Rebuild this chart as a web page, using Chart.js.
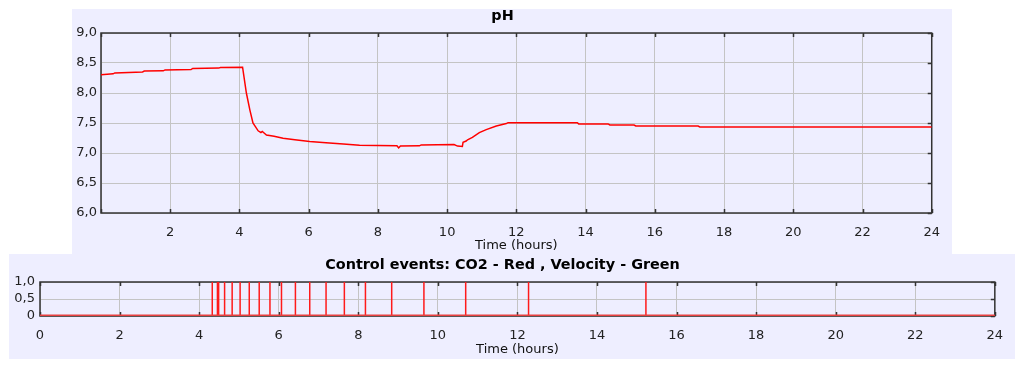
<!DOCTYPE html>
<html><head><meta charset="utf-8">
<script src="https://cdn.jsdelivr.net/npm/chart.js@4/dist/chart.umd.min.js"></script>
<style>
html,body{margin:0;padding:0;background:#fff;width:1024px;height:368px;overflow:hidden}
.panel{position:absolute;background:#eeeeff}
#p1{left:72px;top:9px;width:880px;height:245px}
#p2{left:9px;top:254px;width:1006px;height:105px}
canvas{display:block}
</style></head><body>
<div class="panel" id="p1"><canvas id="c1" width="880" height="245"></canvas></div>
<div class="panel" id="p2"><canvas id="c2" width="1006" height="105"></canvas></div>
<script>
// ---- data ----
const phTimes  = [0, 0.35, 0.4, 1.2, 1.25, 1.8, 1.85, 2.6, 2.65, 3.4, 3.45, 4.09, 4.2, 4.3, 4.39, 4.54, 4.62, 4.66, 4.72, 4.78, 5.0, 5.26, 5.6, 6.03, 6.5, 7.0, 7.47, 8.0, 8.55, 8.6, 8.65, 9.2, 9.25, 10.2, 10.3, 10.44, 10.46, 10.55, 10.59, 10.73, 10.93, 11.13, 11.42, 11.71, 11.76, 13.76, 13.8, 14.65, 14.7, 15.4, 15.45, 17.25, 17.3, 24];
const phValues = [8.305, 8.32, 8.335, 8.35, 8.365, 8.37, 8.385, 8.39, 8.41, 8.415, 8.425, 8.43, 8.0, 7.72, 7.50, 7.37, 7.34, 7.36, 7.33, 7.30, 7.28, 7.245, 7.22, 7.19, 7.17, 7.15, 7.13, 7.125, 7.12, 7.085, 7.115, 7.12, 7.135, 7.14, 7.115, 7.11, 7.18, 7.20, 7.22, 7.26, 7.34, 7.39, 7.45, 7.49, 7.505, 7.505, 7.485, 7.485, 7.467, 7.467, 7.45, 7.45, 7.435, 7.435];
const co2Events = [4.33, 4.46, 4.49, 4.64, 4.83, 5.03, 5.26, 5.51, 5.78, 6.07, 6.42, 6.78, 7.19, 7.65, 8.18, 8.84, 9.65, 10.70, 12.28, 15.23];
const velocityEvents = [];
const xTicks = [0, 2, 4, 6, 8, 10, 12, 14, 16, 18, 20, 22, 24];
const phTicks = [6, 6.5, 7, 7.5, 8, 8.5, 9];
const eventTicks = [0, 0.5, 1];
const phTitle = 'pH';
const eventsTitle = 'Control events: CO2 - Red , Velocity - Green';
const xTitle = 'Time (hours)';

// ---- helpers ----
const FONT = {family: "'DejaVu Sans', sans-serif", size: 13};
const BOLD = {family: "'DejaVu Sans', sans-serif", size: 14.4, weight: 'bold', lineHeight: 1};
const comma = v => v.toFixed(1).replace('.', ',');

const frame = {
  id: 'frame',
  beforeDatasetsDraw(chart) {
    const {ctx, chartArea: a, scales: {x, y}} = chart;
    ctx.save();
    ctx.strokeStyle = '#333';
    ctx.lineWidth = 1.5;
    ctx.strokeRect(a.left, a.top, a.right - a.left, a.bottom - a.top);
    ctx.beginPath();
    x.ticks.forEach(t => {
      const px = Math.round(x.getPixelForValue(t.value)) + 0.5;
      ctx.moveTo(px, a.top); ctx.lineTo(px, a.top + 4);
      ctx.moveTo(px, a.bottom); ctx.lineTo(px, a.bottom - 4);
    });
    y.ticks.forEach(t => {
      const py = Math.round(y.getPixelForValue(t.value)) + 0.5;
      ctx.moveTo(a.right, py); ctx.lineTo(a.right - 4, py);
    });
    ctx.stroke();
    ctx.restore();
  }
};

function xScale(height, tickPad, titlePad, hideZero) {
  return {
    type: 'linear', min: 0, max: 24,
    afterBuildTicks: s => { s.ticks = xTicks.map(v => ({value: v})); },
    afterFit: s => { s.height = height; },
    ticks: {font: FONT, color: '#222', padding: tickPad, maxRotation: 0, autoSkip: false,
            callback: v => (hideZero && v === 0) ? '' : String(v)},
    grid: {color: '#c4c4c4', lineWidth: 1, drawTicks: false},
    border: {display: false},
    title: {display: true, text: xTitle, font: FONT, color: '#111', padding: {top: 0, bottom: titlePad}}
  };
}

// ---- pH chart ----
new Chart(document.getElementById('c1'), {
  type: 'line',
  data: {datasets: [{
    data: phTimes.map((t, i) => ({x: t, y: phValues[i]})),
    borderColor: '#ff0000', borderWidth: 1.5, pointRadius: 0, tension: 0, fill: false
  }]},
  options: {
    responsive: false, animation: false, devicePixelRatio: 1,
    layout: {padding: {left: 0, right: 19, top: 0, bottom: 0}},
    plugins: {
      legend: {display: false}, tooltip: {enabled: false},
      title: {display: true, text: phTitle, font: BOLD, color: '#000', padding: {top: 0, bottom: 9.6}}
    },
    scales: {
      x: xScale(41, 12, 0.2, true),
      y: {
        min: 6, max: 9,
        afterBuildTicks: s => { s.ticks = phTicks.map(v => ({value: v})); },
        afterFit: s => { s.width = 29; },
        ticks: {font: FONT, color: '#222', padding: 4, autoSkip: false, callback: v => comma(v)},
        grid: {color: '#c4c4c4', lineWidth: 1, drawTicks: false},
        border: {display: false}
      }
    }
  },
  plugins: [frame]
});

// ---- events chart ----
const co2Line = [{x: 0, y: 0}];
co2Events.forEach(t => { co2Line.push({x: t, y: 0}, {x: t, y: 1}, {x: t, y: 0}); });
co2Line.push({x: 24, y: 0});
const velLine = [];
velocityEvents.forEach(t => { velLine.push({x: t, y: 0}, {x: t, y: 1}, {x: t, y: 0}); });

new Chart(document.getElementById('c2'), {
  type: 'line',
  data: {datasets: [
    {data: [{x: 0, y: 0}, {x: 24, y: 0}], borderColor: '#e84040', borderWidth: 3, pointRadius: 0, tension: 0},
    {data: co2Line, borderColor: '#ff1a1a', borderWidth: 1.5, pointRadius: 0, tension: 0},
    {data: velLine, borderColor: '#00c000', borderWidth: 1.5, pointRadius: 0, tension: 0}
  ]},
  options: {
    responsive: false, animation: false, devicePixelRatio: 1,
    layout: {padding: {left: 0, right: 19, top: 0, bottom: 0}},
    plugins: {
      legend: {display: false}, tooltip: {enabled: false},
      title: {display: true, text: eventsTitle, font: BOLD, color: '#000', padding: {top: 3.8, bottom: 9.8}}
    },
    scales: {
      x: xScale(43, 11.9, 1.2, false),
      y: {
        min: 0, max: 1,
        afterBuildTicks: s => { s.ticks = eventTicks.map(v => ({value: v})); },
        afterFit: s => { s.width = 31; },
        ticks: {font: FONT, color: '#222', padding: 5, autoSkip: false, callback: v => v === 0 ? '0' : comma(v)},
        grid: {color: '#c4c4c4', lineWidth: 1, drawTicks: false},
        border: {display: false}
      }
    }
  },
  plugins: [frame]
});
</script>
</body></html>
